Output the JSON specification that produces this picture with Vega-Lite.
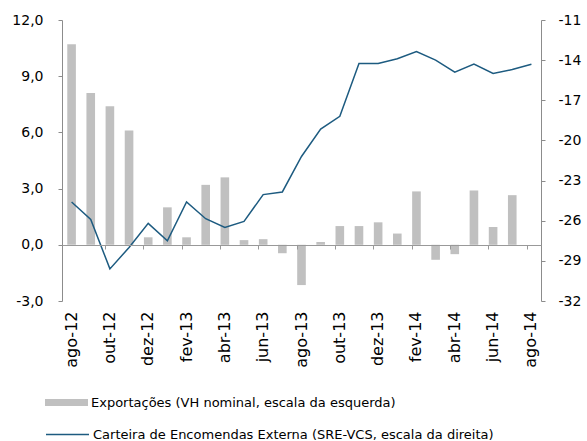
{
  "$schema": "https://vega.github.io/schema/vega-lite/v6.json",
  "width": 479,
  "height": 281,
  "autosize": "none",
  "padding": {"left": 62, "top": 20, "right": 46, "bottom": 140},
  "background": "white",
  "config": {
    "view": {"stroke": null},
    "axis": {"labelFont": "DejaVu Sans", "labelFontSize": 14, "labelColor": "#000000", "grid": false, "title": null, "domainColor": "#8c8c8c", "tickColor": "#8c8c8c"},
    "legend": {"labelFont": "DejaVu Sans", "labelFontSize": 13, "labelColor": "#000000", "title": null, "padding": 0, "labelOffset": 3, "labelLimit": 0}
  },
  "data": {
    "values": [
      {"mes": "ago-12", "exp": 10.7, "car": -24.6},
      {"mes": "set-12", "exp": 8.1, "car": -25.9},
      {"mes": "out-12", "exp": 7.4, "car": -29.6},
      {"mes": "nov-12", "exp": 6.1, "car": -28.0},
      {"mes": "dez-12", "exp": 0.4, "car": -26.2},
      {"mes": "jan-13", "exp": 2.0, "car": -27.5},
      {"mes": "fev-13", "exp": 0.4, "car": -24.6},
      {"mes": "mar-13", "exp": 3.2, "car": -25.85},
      {"mes": "abr-13", "exp": 3.6, "car": -26.5},
      {"mes": "mai-13", "exp": 0.25, "car": -26.05},
      {"mes": "jun-13", "exp": 0.3, "car": -24.05},
      {"mes": "jul-13", "exp": -0.45, "car": -23.85},
      {"mes": "ago-13", "exp": -2.15, "car": -21.2},
      {"mes": "set-13", "exp": 0.15, "car": -19.15},
      {"mes": "out-13", "exp": 1.0, "car": -18.2},
      {"mes": "nov-13", "exp": 1.0, "car": -14.25},
      {"mes": "dez-13", "exp": 1.2, "car": -14.25},
      {"mes": "jan-14", "exp": 0.6, "car": -13.9},
      {"mes": "fev-14", "exp": 2.85, "car": -13.35},
      {"mes": "mar-14", "exp": -0.8, "car": -14.0},
      {"mes": "abr-14", "exp": -0.5, "car": -14.9},
      {"mes": "mai-14", "exp": 2.9, "car": -14.3},
      {"mes": "jun-14", "exp": 0.95, "car": -15.0},
      {"mes": "jul-14", "exp": 2.65, "car": -14.7},
      {"mes": "ago-14", "exp": null, "car": -14.3}
    ]
  },
  "layer": [
    {
      "mark": {"type": "bar"},
      "encoding": {
        "x": {
          "field": "mes", "type": "ordinal", "sort": null,
          "scale": {"paddingInner": 0.55, "paddingOuter": 0.275},
          "axis": {
            "orient": "bottom", "domain": false, "ticks": false, "labelAngle": -90, "labelPadding": 10, "labelFontSize": 16,
            "values": ["ago-12","out-12","dez-12","fev-13","abr-13","jun-13","ago-13","out-13","dez-13","fev-14","abr-14","jun-14","ago-14"]
          }
        },
        "y": {
          "field": "exp", "type": "quantitative",
          "scale": {"domain": [-3, 12], "nice": false, "zero": false},
          "axis": {"orient": "left", "values": [-3, 0, 3, 6, 9, 12], "tickSize": 4, "labelPadding": 15,
                   "labelExpr": "replace(replace(format(datum.value, '.1f'), '.', ','), '\u2212', '-')"}
        },
        "fill": {
          "datum": "Exportações (VH nominal, escala da esquerda)",
          "scale": {"range": ["#c0c0c0"]},
          "legend": {"orient": "none", "legendX": -17, "legendY": 361, "symbolType": "M-1,-0.16L1,-0.16L1,0.16L-1,0.16Z", "symbolSize": 1849, "symbolStrokeWidth": 0}
        }
      }
    },
    {
      "mark": {"type": "line", "strokeWidth": 1.5},
      "encoding": {
        "x": {
          "field": "mes", "type": "ordinal", "sort": null,
          "axis": {
            "orient": "bottom", "offset": -56, "labels": false, "domain": true, "ticks": true, "tickSize": 4, "bandPosition": 0, "zindex": 1,
            "domainColor": "#999999", "tickColor": "#999999",
            "values": ["out-12","dez-12","fev-13","abr-13","jun-13","ago-13","out-13","dez-13","fev-14","abr-14","jun-14","ago-14"]
          }
        },
        "y": {
          "field": "car", "type": "quantitative",
          "scale": {"domain": [-32, -11], "nice": false, "zero": false},
          "axis": {"orient": "right", "values": [-32, -29, -26, -23, -20, -17, -14, -11], "tickSize": 4, "labelPadding": 13,
                   "labelExpr": "replace(format(datum.value, 'd'), '\u2212', '-')"}
        },
        "stroke": {
          "datum": "Carteira de Encomendas Externa (SRE-VCS, escala da direita)",
          "scale": {"range": ["#1d5b80"]},
          "legend": {"orient": "none", "legendX": -17, "legendY": 392, "symbolType": "stroke", "symbolSize": 1849, "symbolStrokeWidth": 1.5}
        }
      }
    }
  ],
  "resolve": {"scale": {"y": "independent"}, "axis": {"x": "independent"}}
}
